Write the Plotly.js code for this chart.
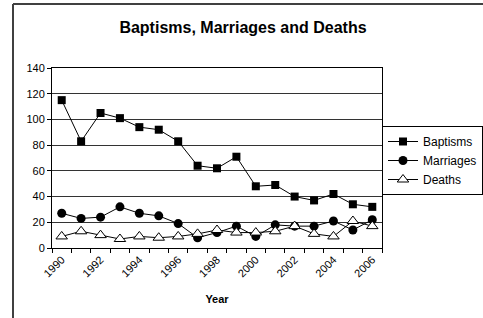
<!DOCTYPE html>
<html>
<head>
<meta charset="utf-8">
<script src="https://cdn.plot.ly/plotly-3.0.1.min.js"></script>
<style>
html,body{margin:0;padding:0;background:#fff;}
#chart{width:483px;height:318px;}
</style>
</head>
<body>
<div id="chart"></div>
<script>
const years = [1990,1991,1992,1993,1994,1995,1996,1997,1998,1999,2000,2001,2002,2003,2004,2005,2006];
const baptisms = [115,83,105,101,94,92,83,64,62,71,48,49,40,37,42,34,32];
const marriages = [27,23,24,32,27,25,19,8,12,17,9,18,17,17,21,14,22];
const deaths = [9,13,10,7,9,8,9,11,14,12,12,13,17,11,9,21,17];
const yearTicks = [1990,1992,1994,1996,1998,2000,2002,2004,2006];

const font = {family: '"Liberation Sans", Arial, sans-serif', color: '#000'};

const traces = [
  {x: years, y: baptisms, name: 'Baptisms', mode: 'lines+markers',
   line: {color: '#000', width: 1},
   marker: {symbol: 'square', size: 8, color: '#000'}},
  {x: years, y: marriages, name: 'Marriages', mode: 'lines+markers',
   line: {color: '#000', width: 1},
   marker: {symbol: 'circle', size: 9, color: '#000'}},
  {x: years, y: deaths, name: 'Deaths', mode: 'lines+markers',
   line: {color: '#000', width: 1},
   marker: {symbol: 'triangle-up', size: 10, color: '#fff', line: {color: '#000', width: 1}}}
];

const layout = {
  width: 483, height: 318,
  margin: {l: 52, r: 101, t: 68, b: 70, pad: 0, autoexpand: false},
  paper_bgcolor: '#fff', plot_bgcolor: '#fff',
  font: Object.assign({size: 11}, font),
  title: {text: '<b>Baptisms, Marriages and Deaths</b>', font: Object.assign({size: 16}, font),
          x: 243/483, xref: 'container', xanchor: 'center', y: 1 - 27/318, yref: 'container', yanchor: 'middle'},
  showlegend: true,
  legend: {x: 1.0, xanchor: 'left', y: (248-126)/180, yanchor: 'top',
           bordercolor: '#000', borderwidth: 1, bgcolor: '#fff',
           font: Object.assign({size: 12}, font), itemwidth: 30, tracegroupgap: 0},
  xaxis: {
    range: [1989.5, 2006.5], tickvals: yearTicks, ticktext: yearTicks.map(String),
    tickangle: -45, ticks: '', showgrid: false, zeroline: false, automargin: false,
    showline: true, linecolor: '#000', linewidth: 1, mirror: true,
    tickfont: Object.assign({size: 11}, font),
    minor: {tick0: 1989.5, dtick: 1, ticks: 'outside', ticklen: 4, tickcolor: '#000', showgrid: false},
    title: {text: '<b>Year</b>', font: Object.assign({size: 11}, font), standoff: 16}
  },
  yaxis: {
    range: [0, 140], dtick: 20, ticks: 'outside', ticklen: 4, tickcolor: '#000', automargin: false,
    showgrid: true, gridcolor: '#333', gridwidth: 1, zeroline: false,
    showline: true, linecolor: '#000', linewidth: 1, mirror: true,
    tickfont: Object.assign({size: 11}, font)
  },
  shapes: [
    {type: 'line', xref: 'paper', yref: 'paper', x0: (13-52)/330, x1: (13-52)/330, y0: (248-320)/180, y1: (248-4)/180,
     line: {color: '#404040', width: 2}},
    {type: 'line', xref: 'paper', yref: 'paper', x0: (13-52)/330, x1: (485-52)/330, y0: (248-4)/180, y1: (248-4)/180,
     line: {color: '#404040', width: 2}}
  ]
};

Plotly.newPlot('chart', traces, layout, {displayModeBar: false, staticPlot: true});
</script>
</body>
</html>
